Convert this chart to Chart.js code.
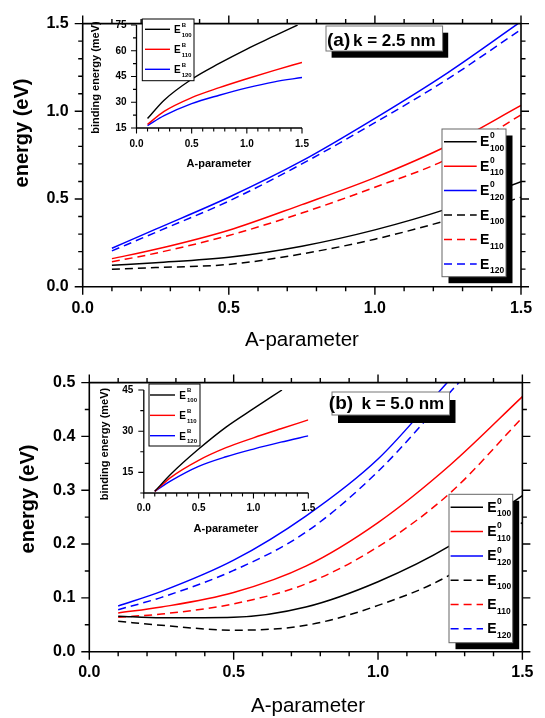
<!DOCTYPE html>
<html>
<head>
<meta charset="utf-8">
<script src="https://cdn.jsdelivr.net/npm/chart.js@4.4.1/dist/chart.umd.min.js"></script>
<style>
  html, body { margin: 0; padding: 0; background: #fff; }
  #fig { position: relative; width: 545px; height: 718px; overflow: hidden; background: #fff; }
  #fig canvas { position: absolute; }
</style>
</head>
<body>
<div id="fig">
  <canvas id="mainA" width="545" height="359" style="left:0;top:0"></canvas>
  <canvas id="insetA" width="240" height="175" style="left:80px;top:0"></canvas>
  <canvas id="mainB" width="545" height="359" style="left:0;top:359px"></canvas>
  <canvas id="insetB" width="240" height="175" style="left:85px;top:370px"></canvas>
</div>
<script>
var FONT = "'Liberation Sans', Arial, Helvetica, sans-serif";

var aGrid = [0.1, 0.25, 0.5, 0.75, 1.0, 1.25, 1.5];

// panel (a), k = 2.5 nm, energy in eV
var aE0_100 = [0.122, 0.137, 0.168, 0.231, 0.324, 0.445, 0.598];
var aE0_110 = [0.160, 0.213, 0.322, 0.468, 0.622, 0.805, 1.033];
var aX0_120 = [0.1, 0.25, 0.5, 0.75, 1.0, 1.25, 1.49];
var aE0_120 = [0.219, 0.328, 0.510, 0.717, 0.960, 1.221, 1.5];
var aE100 = [0.100, 0.109, 0.127, 0.187, 0.271, 0.380, 0.510];
var aE110 = [0.142, 0.191, 0.292, 0.420, 0.567, 0.730, 0.980];
var aE120 = [0.204, 0.310, 0.488, 0.700, 0.935, 1.185, 1.467];

// inset (a), binding energy in meV
var aBX100 = [0.1, 0.25, 0.5, 0.75, 1.0, 1.25, 1.46];
var aB100 = [20.5, 31.2, 43.4, 52.6, 61.0, 68.6, 75.0];
var aB110 = [17.1, 24.7, 32.7, 38.5, 43.7, 48.6, 53.2];
var aB120 = [16.4, 22.2, 29.2, 34.1, 38.4, 41.9, 44.4];

// panel (b), k = 5.0 nm, energy in eV
var bE0_100 = [0.066, 0.063, 0.064, 0.083, 0.130, 0.197, 0.290];
var bE0_110 = [0.072, 0.083, 0.110, 0.159, 0.240, 0.347, 0.474];
var bX0_120 = [0.1, 0.25, 0.5, 0.75, 1.0, 1.24];
var bE0_120 = [0.085, 0.112, 0.170, 0.252, 0.358, 0.5];
var bE100 = [0.0565, 0.049, 0.040, 0.049, 0.086, 0.143, 0.240];
var bE110 = [0.064, 0.070, 0.089, 0.126, 0.195, 0.295, 0.435];
var bX120 = [0.1, 0.25, 0.5, 0.75, 1.0, 1.28];
var bE120 = [0.078, 0.101, 0.151, 0.222, 0.335, 0.5];

// inset (b), binding energy in meV
var bBX100 = [0.1, 0.25, 0.5, 0.75, 1.0, 1.26];
var bB100 = [8.1, 14.5, 23.5, 31.5, 38.2, 45.0];
var bB110 = [8.1, 13.3, 19.4, 24.0, 27.6, 30.9, 34.1];
var bB120 = [8.1, 12.0, 17.2, 20.7, 23.5, 26.0, 28.3];

// tick labels
var xTicks = [0, 0.5, 1.0, 1.5];
var aYTicks = [0, 0.5, 1.0, 1.5];
var bYTicks = [0, 0.1, 0.2, 0.3, 0.4, 0.5];
var aInsetYTicks = [15, 30, 45, 60, 75];
var bInsetYTicks = [15, 30, 45];

function pts(xv, yv) {
  return yv.map(function (y, i) { return { x: xv[i], y: y }; });
}

function line(xv, yv, color, dashed, sup, sub, width) {
  return {
    data: pts(xv, yv),
    borderColor: color,
    borderWidth: width || 1.5,
    borderDash: dashed ? [8, 5] : [],
    pointRadius: 0,
    fill: false,
    cubicInterpolationMode: 'monotone',
    sup: sup,
    sub: sub
  };
}

function eachTick(scale, minor, major, fn) {
  var n = Math.round((scale.max - scale.min) / minor);
  for (var i = 0; i <= n; i++) {
    var v = scale.min + i * minor;
    var r = v / major;
    fn(v, Math.abs(r - Math.round(r)) < 1e-6);
  }
}

function drawLegend(chart, L) {
  var ctx = chart.ctx;
  if (L.shadow) {
    ctx.fillStyle = '#000';
    ctx.fillRect(L.x + L.shadow, L.y + L.shadow, L.w, L.h);
  }
  ctx.fillStyle = '#fff';
  ctx.fillRect(L.x, L.y, L.w, L.h);
  ctx.strokeStyle = L.border;
  ctx.lineWidth = 1;
  ctx.strokeRect(L.x, L.y, L.w, L.h);
  chart.data.datasets.forEach(function (ds, i) {
    var cy = L.row0 + i * L.rowGap;
    ctx.strokeStyle = ds.borderColor;
    ctx.lineWidth = ds.borderWidth;
    ctx.setLineDash(ds.borderDash);
    ctx.beginPath();
    ctx.moveTo(L.s0, cy);
    ctx.lineTo(L.s1, cy);
    ctx.stroke();
    ctx.setLineDash([]);
    ctx.fillStyle = '#000';
    ctx.textAlign = 'left';
    ctx.textBaseline = 'alphabetic';
    ctx.font = 'bold ' + L.big + 'px ' + FONT;
    ctx.fillText('E', L.ex, cy + L.eDy);
    ctx.font = 'bold ' + L.small + 'px ' + FONT;
    if (ds.sup) ctx.fillText(ds.sup, L.subX, cy + L.supDy);
    ctx.fillText(ds.sub, L.subX, cy + L.subDy);
  });
}

function drawTag(ctx, T) {
  ctx.fillStyle = '#000';
  ctx.fillRect(T.x + T.dx, T.y + T.dy, T.w, T.h);
  ctx.fillStyle = '#fff';
  ctx.fillRect(T.x, T.y, T.w, T.h);
  ctx.strokeStyle = '#777';
  ctx.lineWidth = 1;
  ctx.strokeRect(T.x, T.y, T.w, T.h);
  ctx.fillStyle = '#000';
  ctx.textAlign = 'left';
  ctx.textBaseline = 'alphabetic';
  T.parts.forEach(function (p) {
    ctx.font = p.font;
    ctx.fillText(p.text, p.x, p.y);
  });
}

var decor = {
  id: 'decor',
  afterDraw: function (chart, args, o) {
    var ctx = chart.ctx, a = chart.chartArea;
    var sx = chart.scales.x, sy = chart.scales.y;
    ctx.save();
    ctx.strokeStyle = '#000';
    ctx.lineWidth = o.frameWidth;
    ctx.beginPath();
    if (o.box) {
      ctx.rect(a.left, a.top, a.right - a.left, a.bottom - a.top);
    } else {
      ctx.moveTo(a.left, a.top);
      ctx.lineTo(a.left, a.bottom);
      ctx.lineTo(a.right, a.bottom);
    }
    ctx.stroke();

    // tick marks point outwards
    ctx.lineWidth = o.tickWidth;
    ctx.beginPath();
    eachTick(sx, o.xMinor, o.xMajor, function (v, major) {
      var p = sx.getPixelForValue(v), len = major ? o.major : o.minor;
      ctx.moveTo(p, a.bottom); ctx.lineTo(p, a.bottom + len);
      if (o.box) { ctx.moveTo(p, a.top); ctx.lineTo(p, a.top - len); }
    });
    eachTick(sy, o.yMinor, o.yMajor, function (v, major) {
      var p = sy.getPixelForValue(v), len = major ? o.major : o.minor;
      ctx.moveTo(a.left, p); ctx.lineTo(a.left - len, p);
      if (o.box) { ctx.moveTo(a.right, p); ctx.lineTo(a.right + len, p); }
    });
    ctx.stroke();

    // axis titles
    ctx.fillStyle = '#000';
    ctx.textAlign = 'center';
    ctx.textBaseline = 'alphabetic';
    ctx.font = o.xTitle.font;
    ctx.fillText(o.xTitle.text, o.xTitle.x, o.xTitle.y);
    ctx.save();
    ctx.translate(o.yTitle.x, o.yTitle.y);
    ctx.rotate(-Math.PI / 2);
    ctx.font = o.yTitle.font;
    ctx.fillText(o.yTitle.text, 0, 0);
    ctx.restore();

    drawLegend(chart, o.legend);
    if (o.tag) drawTag(ctx, o.tag);
    ctx.restore();
  }
};

function makeChart(id, datasets, c) {
  var canvas = document.getElementById(id);
  var W = canvas.width, H = canvas.height;
  var tickFont = { size: c.tickSize, weight: 'bold', family: FONT };
  return new Chart(canvas, {
    type: 'line',
    data: { datasets: datasets },
    options: {
      responsive: false,
      animation: false,
      devicePixelRatio: 1,
      layout: { padding: { left: 0, top: c.area.top, right: W - c.area.right, bottom: 0 } },
      plugins: { legend: { display: false }, tooltip: { enabled: false }, decor: c.decor },
      scales: {
        x: {
          type: 'linear', min: 0, max: 1.5,
          grid: { display: false, drawTicks: false },
          border: { display: false },
          ticks: {
            autoSkip: false, maxRotation: 0, padding: c.xPad, font: tickFont, color: '#000',
            callback: function (v) { return v.toFixed(1); }
          },
          afterBuildTicks: function (s) { s.ticks = xTicks.map(function (v) { return { value: v }; }); },
          afterFit: function (s) { s.height = H - c.area.bottom; }
        },
        y: {
          type: 'linear', min: c.yMin, max: c.yMax,
          grid: { display: false, drawTicks: false },
          border: { display: false },
          ticks: {
            autoSkip: false, padding: c.yPad, font: tickFont, color: '#000',
            callback: function (v) { return c.yDigits ? v.toFixed(c.yDigits) : String(v); }
          },
          afterBuildTicks: function (s) { s.ticks = c.yTicks.map(function (v) { return { value: v }; }); },
          afterFit: function (s) { s.width = c.area.left; }
        }
      }
    },
    plugins: [decor]
  });
}

var BLACK = '#000000', RED = '#ff0000', BLUE = '#0000ff';

// ---- panel (a) ----
makeChart('mainA', [
  line(aGrid, aE0_100, BLACK, false, '0', '100'),
  line(aGrid, aE0_110, RED, false, '0', '110'),
  line(aX0_120, aE0_120, BLUE, false, '0', '120'),
  line(aGrid, aE100, BLACK, true, null, '100'),
  line(aGrid, aE110, RED, true, null, '110'),
  line(aGrid, aE120, BLUE, true, null, '120')
], {
  area: { left: 82.7, right: 521, top: 13.3, bottom: 286.7 },
  yMin: 0, yMax: 1.5, yTicks: aYTicks, yDigits: 1,
  tickSize: 16, xPad: 12, yPad: 14,
  decor: {
    box: true, frameWidth: 1.6, tickWidth: 1.4, major: 8, minor: 4.5,
    xMinor: 0.1, xMajor: 0.5, yMinor: 0.1, yMajor: 0.5,
    xTitle: { text: 'A-parameter', x: 301.9, y: 346, font: '20.5px ' + FONT },
    yTitle: { text: 'energy (eV)', x: 28, y: 133, font: 'bold 20px ' + FONT },
    legend: { x: 442, y: 129, w: 64, h: 147.7, shadow: 6.5, border: '#666',
      row0: 141.7, rowGap: 24.46, s0: 444, s1: 476.7, ex: 480, subX: 490,
      big: 14, small: 8.5, eDy: 4.5, supDy: -3.4, subDy: 9 },
    tag: { x: 326, y: 26, w: 116.6, h: 25, dx: 5.6, dy: 6.7, parts: [
      { text: '(a)', x: 327, y: 45.5, font: 'bold 19px ' + FONT },
      { text: 'k = 2.5 nm', x: 353, y: 45.7, font: 'bold 17px ' + FONT }
    ] }
  }
});

makeChart('insetA', [
  line(aBX100, aB100, BLACK, false, 'B', '100', 1.4),
  line(aGrid, aB110, RED, false, 'B', '110', 1.4),
  line(aGrid, aB120, BLUE, false, 'B', '120', 1.4)
], {
  area: { left: 56.5, right: 222, top: 25, bottom: 128 },
  yMin: 15, yMax: 75, yTicks: aInsetYTicks, yDigits: 0,
  tickSize: 10, xPad: 10, yPad: 10,
  decor: {
    box: false, frameWidth: 1.3, tickWidth: 1.1, major: 5.5, minor: 3.5,
    xMinor: 0.1, xMajor: 0.5, yMinor: 7.5, yMajor: 15,
    xTitle: { text: 'A-parameter', x: 139, y: 166.5, font: 'bold 11px ' + FONT },
    yTitle: { text: 'binding energy (meV)', x: 18.5, y: 77.5, font: 'bold 11px ' + FONT },
    legend: { x: 62.3, y: 19, w: 51.7, h: 61.7, shadow: 0, border: '#000',
      row0: 29.3, rowGap: 20, s0: 65, s1: 90, ex: 94, subX: 101.7,
      big: 10, small: 6, eDy: 4, supDy: -2.6, subDy: 7.4 }
  }
});

// ---- panel (b) ----
makeChart('mainB', [
  line(aGrid, bE0_100, BLACK, false, '0', '100'),
  line(aGrid, bE0_110, RED, false, '0', '110'),
  line(bX0_120, bE0_120, BLUE, false, '0', '120'),
  line(aGrid, bE100, BLACK, true, null, '100'),
  line(aGrid, bE110, RED, true, null, '110'),
  line(bX120, bE120, BLUE, true, null, '120')
], {
  area: { left: 89.3, right: 527, top: 19.3, bottom: 292.7 },
  yMin: 0, yMax: 0.5, yTicks: bYTicks, yDigits: 1,
  tickSize: 16, xPad: 11.5, yPad: 14,
  decor: {
    box: true, frameWidth: 1.6, tickWidth: 1.4, major: 8, minor: 4.5,
    xMinor: 0.1, xMajor: 0.5, yMinor: 0.05, yMajor: 0.1,
    xTitle: { text: 'A-parameter', x: 308, y: 353, font: '20.5px ' + FONT },
    yTitle: { text: 'energy (eV)', x: 33.5, y: 140, font: 'bold 20px ' + FONT },
    legend: { x: 449, y: 135.3, w: 63.7, h: 148.4, shadow: 6.5, border: '#666',
      row0: 148.3, rowGap: 24.3, s0: 450.6, s1: 483, ex: 487.3, subX: 497,
      big: 14, small: 8.5, eDy: 4.5, supDy: -3.4, subDy: 9 },
    tag: { x: 332, y: 33, w: 117.5, h: 23, dx: 6, dy: 8, parts: [
      { text: '(b)', x: 328.8, y: 50, font: 'bold 19px ' + FONT },
      { text: 'k = 5.0 nm', x: 361.5, y: 50, font: 'bold 17px ' + FONT }
    ] }
  }
});

makeChart('insetB', [
  line(bBX100, bB100, BLACK, false, 'B', '100', 1.4),
  line(aGrid, bB110, RED, false, 'B', '110', 1.4),
  line(aGrid, bB120, BLUE, false, 'B', '120', 1.4)
], {
  area: { left: 58.8, right: 223.3, top: 20, bottom: 123 },
  yMin: 7.5, yMax: 45, yTicks: bInsetYTicks, yDigits: 0,
  tickSize: 10, xPad: 9, yPad: 10.5,
  decor: {
    box: false, frameWidth: 1.3, tickWidth: 1.1, major: 5.5, minor: 3.5,
    xMinor: 0.1, xMajor: 0.5, yMinor: 7.5, yMajor: 15,
    xTitle: { text: 'A-parameter', x: 141, y: 162, font: 'bold 11px ' + FONT },
    yTitle: { text: 'binding energy (meV)', x: 22.5, y: 74, font: 'bold 11px ' + FONT },
    legend: { x: 64, y: 14, w: 51, h: 62, shadow: 0, border: '#000',
      row0: 25, rowGap: 20.35, s0: 65, s1: 90, ex: 94.3, subX: 102,
      big: 10, small: 6, eDy: 4, supDy: -2.6, subDy: 7.4 }
  }
});
</script>
</body>
</html>
